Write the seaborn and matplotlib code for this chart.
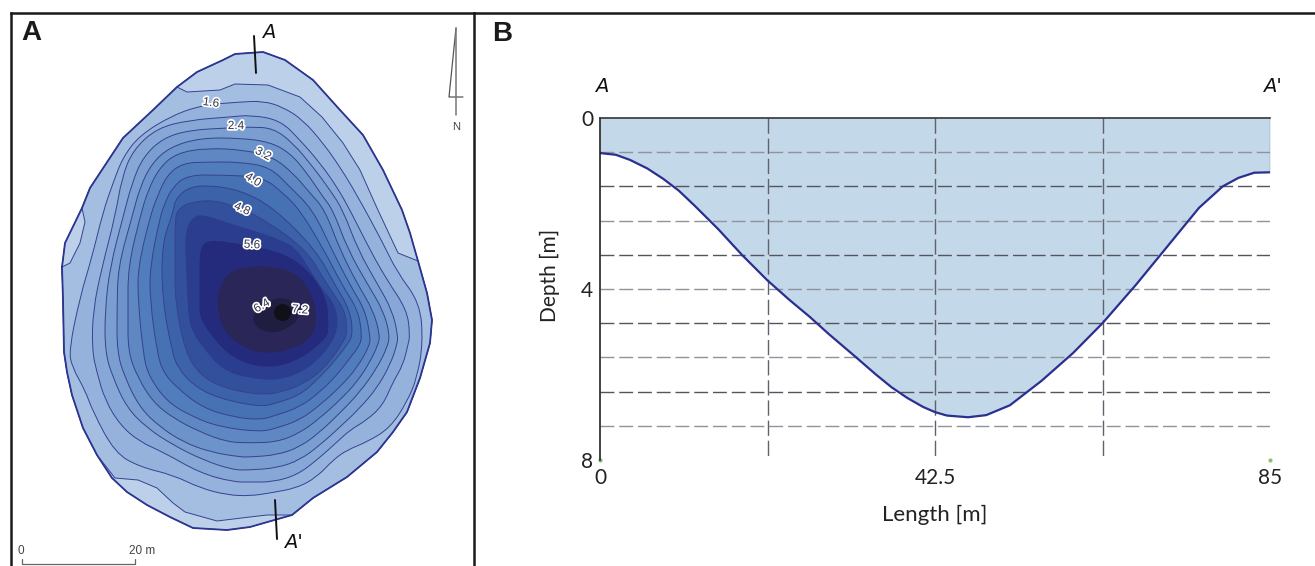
import matplotlib
matplotlib.use("Agg")
import matplotlib.pyplot as plt
import matplotlib.patheffects as pe
from matplotlib.path import Path
from matplotlib.patches import PathPatch
import seaborn as sns

W, H = 1315, 566

# map outlines (map grid units), clockwise from the west shore
lake_outline = [(62,267),(65,243),(82,208),(90,188),(123,138),(153,110),(177,87),(197,72),(223,60),(235,54),(263,52),(285,60),(313,80),(340,110),(363,135),(383,170),(402,210),(410,233),(418,261),(427,293),(432,320),(430,343),(420,378),(407,412),(393,432),(377,452),(347,477),(313,498),(292,515),(250,527),(227,530),(193,528),(170,517),(147,505),(127,492),(112,478),(97,455),(83,428),(72,395),(67,372),(64,352),(63,300)]
contour_12 = [(62,267),(70,263),(80,243),(85,222),(82,208),(90,188),(123,138),(153,110),(177,87),(187,92),(220,90),(235,84),(268,85),(300,97),(322,117),(343,143),(360,170),(377,208),(398,253),(418,261),(427,293),(432,320),(430,343),(420,378),(407,412),(393,432),(377,452),(347,477),(313,498),(292,515),(267,515),(250,517),(217,521),(185,512),(173,503),(157,488),(138,480),(115,478),(97,455),(83,428),(72,395),(67,372),(64,352),(63,300)]
contour_16 = [(80,297),(92,257),(103,212),(113,183),(123,157),(140,135),(173,115),(203,105),(240,102),(263,101),(283,107),(303,120),(323,143),(340,167),(357,195),(383,243),(397,272),(420,303),(423,343),(417,378),(407,402),(390,428),(367,442),(347,450),(333,460),(317,477),(297,488),(270,493),(250,496),(227,495),(200,488),(173,475),(140,467),(115,453),(93,412),(85,390),(72,367),(69,350)]
contour_20 = [(93,310),(102,267),(115,217),(122,177),(133,150),(157,128),(190,120),(230,117),(250,115),(280,120),(300,140),(320,163),(337,187),(350,210),(370,250),(387,280),(407,310),(410,335),(408,345),(403,365),(393,382),(383,405),(367,420),(350,430),(337,442),(317,460),(297,475),(273,482),(250,482),(233,482),(200,473),(163,452),(140,442),(120,425),(105,400),(97,373),(92,350)]
contour_24 = [(105,310),(110,267),(123,217),(132,183),(143,157),(163,138),(190,130),(228,128),(250,127),(273,128),(293,143),(313,167),(330,190),(343,210),(358,250),(378,285),(392,310),(398,335),(397,345),(390,365),(377,388),(360,408),(340,427),(320,445),(300,460),(277,468),(250,470),(233,470),(203,460),(173,445),(147,428),(127,408),(113,378),(105,352)]
contour_28 = [(117,310),(118,267),(132,217),(140,187),(152,163),(170,147),(200,138),(240,138),(270,142),(290,153),(307,173),(323,197),(333,210),(348,250),(368,285),(383,310),(390,335),(387,348),(377,368),(360,392),(340,413),(320,432),(300,447),(277,455),(250,457),(240,457),(210,452),(183,442),(160,427),(140,408),(125,378),(117,352)]
contour_32 = [(128,313),(128,267),(140,217),(148,190),(160,167),(177,153),(207,148),(245,150),(273,157),(293,173),(310,193),(325,210),(340,250),(358,285),(373,310),(380,335),(378,345),(370,362),(357,382),(340,400),(320,418),(300,433),(277,442),(250,443),(227,442),(200,432),(173,418),(153,402),(138,378),(128,352)]
contour_36 = [(138,300),(138,267),(150,217),(157,197),(167,175),(183,163),(207,162),(240,162),(270,167),(290,187),(313,210),(332,250),(350,285),(365,310),(370,335),(370,345),(357,368),(340,387),(320,405),(300,420),(277,428),(260,432),(220,427),(193,417),(167,402),(148,375),(143,352)]
contour_40 = [(150,300),(150,267),(160,217),(165,203),(172,188),(187,175),(223,175),(263,177),(283,193),(300,210),(324,250),(342,285),(358,310),(362,335),(360,345),(350,358),(337,375),(320,392),(300,407),(277,415),(260,420),(233,417),(203,408),(177,388),(163,372),(157,352)]
contour_44 = [(162,297),(162,243),(173,213),(175,200),(187,188),(207,185),(240,190),(273,207),(316,250),(335,285),(350,310),(353,335),(347,345),(333,363),(317,380),(300,395),(277,403),(260,407),(217,398),(193,385),(178,368),(172,352)]
contour_48 = [(175,300),(175,267),(175,223),(177,210),(190,202),(215,200),(242,209),(265,220),(307,250),(327,285),(345,310),(347,330),(345,340),(325,368),(305,383),(283,392),(260,395),(223,388),(200,375),(185,352)]
contour_52 = [(188,300),(187,277),(185,233),(193,217),(203,215),(233,225),(250,230),(280,240),(298,250),(318,285),(337,307),(337,337),(310,368),(280,380),(250,378),(223,370),(203,347),(190,327)]
contour_56 = [(200,300),(200,283),(200,247),(210,240),(243,245),(283,253),(310,272),(327,300),(328,327),(327,337),(303,357),(277,367),(250,365),(227,353),(210,333),(200,317)]
contour_60 = [(217,303),(220,287),(230,272),(243,268),(267,266),(297,273),(313,297),(317,320),(310,340),(283,352),(257,352),(240,345),(223,330)]
contour_64 = [(252,317),(262,307),(278,297),(295,302),(300,317),(288,328),(273,333),(257,328)]
deepest_point = (282, 312)

map_labels = ["1.6", "2.4", "3.2", "4.0", "4.8", "5.6", "6.4", "7.2"]
map_label_x = [211, 236, 263, 253, 242, 252, 262, 300]
map_label_y = [103, 126, 154, 180, 209, 245, 306, 310]
map_label_rot = [-8, 0, -28, -32, -25, -3, 30, -5]

band_colors = ["#bcd0e9", "#a4bee2", "#95b2dc", "#87a8d6", "#7a9ed0", "#6c93ca", "#5f88c3", "#527dbc",
               "#4672b4", "#3c62a9", "#33509c", "#2a3d8e", "#252b7c", "#2a2658", "#201e40"]

# cross section A-A'
length_m = [0, 2, 3.8, 6, 8, 10, 12, 15, 18, 21.25, 24, 26.6, 29, 32.5, 35, 37, 39, 41, 42.5, 44, 46.7, 49, 52, 56, 60, 63.75, 68, 72, 76, 79, 81, 83, 85]
depth_m = [0.82, 0.86, 0.98, 1.18, 1.42, 1.7, 2.05, 2.6, 3.2, 3.8, 4.25, 4.65, 5.05, 5.6, 6.0, 6.3, 6.55, 6.76, 6.88, 6.96, 7.0, 6.95, 6.72, 6.15, 5.5, 4.8, 3.9, 3.0, 2.1, 1.6, 1.4, 1.28, 1.27]
x_ticks = [0, 42.5, 85]
x_tick_labels = ["0", "42.5", "85"]
y_ticks = [0, 4, 8]
depth_grid = [0.8, 1.6, 2.4, 3.2, 4.0, 4.8, 5.6, 6.4, 7.2]
length_grid = [21.25, 42.5, 63.75]

sns.set_theme(style="white")
plt.rcParams["font.family"] = ["Lato", "DejaVu Sans"]

fig = plt.figure(figsize=(W / 100, H / 100), dpi=100)


def px_text(x, y, s, **kw):
    fig.text(x / W, 1 - y / H, s, ha="center", va="center", **kw)


def rounded_path(pts):
    # closed outline with rounded corners, the points act as curve controls
    mids = [((a[0] + b[0]) / 2, (a[1] + b[1]) / 2) for a, b in zip(pts, pts[1:] + pts[:1])]
    verts = [mids[-1]]
    codes = [Path.MOVETO]
    for p, m in zip(pts, mids):
        verts += [p, m]
        codes += [Path.CURVE3, Path.CURVE3]
    return Path(verts, codes)


# panel A, the map
ax_map = fig.add_axes([11 / W, 0, (474 - 11) / W, 1 - 13 / H])
ax_map.set_xlim(11, 474)
ax_map.set_ylim(566, 13)
ax_map.set_xticks([])
ax_map.set_yticks([])
for side in ["left", "top", "right"]:
    ax_map.spines[side].set_color("#1a1a1a")
    ax_map.spines[side].set_linewidth(1.8)
ax_map.spines["bottom"].set_visible(False)

levels = [lake_outline, contour_12, contour_16, contour_20, contour_24, contour_28, contour_32, contour_36,
          contour_40, contour_44, contour_48, contour_52, contour_56, contour_60, contour_64]
for i, (pts, col) in enumerate(zip(levels, band_colors)):
    edge = "#35428f" if i < 11 else col
    if i < 2:
        ax_map.fill([p[0] for p in pts], [p[1] for p in pts], facecolor=col, edgecolor=edge, linewidth=0.7)
    else:
        ax_map.add_patch(PathPatch(rounded_path(pts), facecolor=col, edgecolor=edge, linewidth=0.7))
ax_map.plot([p[0] for p in lake_outline] + [lake_outline[0][0]], [p[1] for p in lake_outline] + [lake_outline[0][1]],
            color="#2c3590", lw=1.3)
ax_map.scatter(*deepest_point, s=150, color="#101018", linewidths=0, zorder=5)

for s, x, y, r in zip(map_labels, map_label_x, map_label_y, map_label_rot):
    ax_map.text(x, y, s, fontsize=8.5, rotation=r, ha="center", va="center", color="#333344", zorder=6,
                fontfamily="Liberation Sans",
                path_effects=[pe.withStroke(linewidth=2.5, foreground="white")])

# section line ends, north arrow, scale bar
ax_map.plot([254, 256], [36, 73], color="#111111", lw=1.4)
ax_map.plot([275, 277], [500, 539], color="#111111", lw=1.4)
ax_map.plot([456, 449, 463], [28, 97, 97], color="#555555", lw=0.9)
ax_map.plot([456, 456], [28, 115], color="#777777", lw=1.1)
ax_map.plot([22, 22, 135, 135], [559, 564, 564, 559], color="#666666", lw=0.9)
px_text(456, 127, "N", fontsize=8, color="#444444", fontfamily="Liberation Sans")
px_text(21, 551, "0", fontsize=8.5, color="#444444", fontfamily="Liberation Sans")
px_text(142, 551, "20 m", fontsize=8.5, color="#444444", fontfamily="Liberation Sans")

# panel B, the cross section
ax = fig.add_axes([600 / W, 1 - 460 / H, 670 / W, 342 / H])
ax.fill_between(length_m, 0, depth_m, color="#c3d8e9", lw=0)
ax.hlines(depth_grid[1::2], 0, 85, color="#555560", lw=1.0, linestyles=(0, (10, 3.5)))
ax.hlines(depth_grid[0::2], 0, 85, color="#8f939c", lw=1.0, linestyles=(0, (10, 3.5)))
ax.vlines(length_grid, 0, 8, color="#5f626b", lw=1.0, linestyles=(0, (11, 3.5)))
sns.lineplot(x=length_m, y=depth_m, ax=ax, color="#2b2f8f", lw=1.6, estimator=None, sort=False)
ax.vlines(85, 0, depth_m[-1], color="#666666", lw=0.9)
ax.plot([0, 85], [8, 8], ls="none", marker="o", ms=2, color="#8fbf6f", clip_on=False)
ax.set_xlim(0, 85)
ax.set_ylim(8, 0)
ax.set_xticks(x_ticks)
ax.set_xticklabels(x_tick_labels)
ax.set_yticks(y_ticks)
ax.tick_params(axis="x", labelsize=15, length=0, pad=6, labelcolor="#222222")
ax.tick_params(axis="y", labelsize=15, length=0, pad=5, labelcolor="#222222")
ax.set_xlabel("Length [m]", fontsize=16, color="#222222", labelpad=12)
ax.set_ylabel("Depth [m]", fontsize=15, color="#222222", labelpad=15, y=0.54)
ax.spines["right"].set_visible(False)
ax.spines["bottom"].set_visible(False)
ax.spines["top"].set_color("#333333")
ax.spines["left"].set_color("#222222")
ax.spines["top"].set_linewidth(1.2)
ax.spines["left"].set_linewidth(1.2)

fig.add_artist(plt.Line2D([474 / W, 1], [1 - 13 / H, 1 - 13 / H], color="#1a1a1a", lw=1.8))

# panel letters and section ends
px_text(31, 33, "A", fontsize=20, fontweight="bold", color="#1a1a1a", fontfamily="Liberation Sans")
px_text(502, 34, "B", fontsize=20, fontweight="bold", color="#1a1a1a", fontfamily="Liberation Sans")
for x, y, s in [(269, 32, "A"), (293, 543, "A'"), (602, 87, "A"), (1272, 87, "A'")]:
    px_text(x, y, s, fontsize=14, fontstyle="oblique", color="#111111", fontfamily="DejaVu Sans")

fig.savefig("out.png", dpi=100)
